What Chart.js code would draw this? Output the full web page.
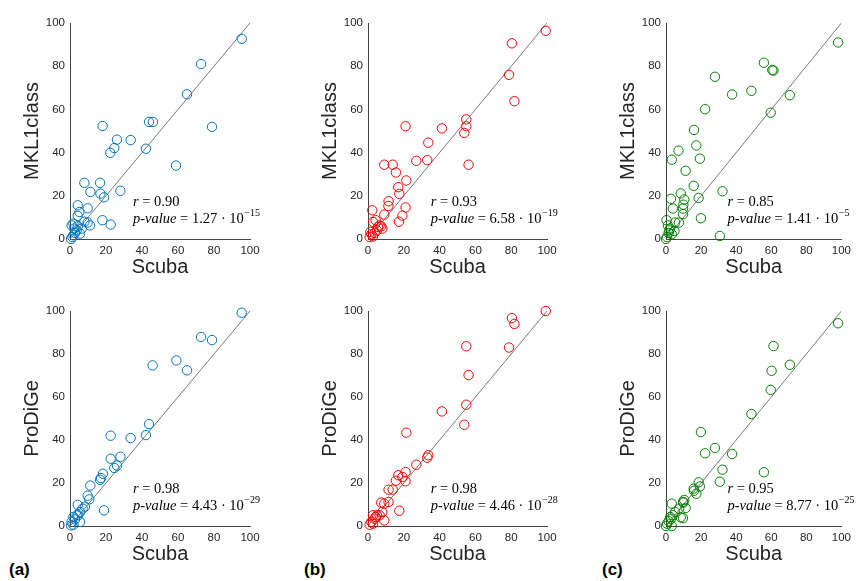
<!DOCTYPE html>
<html lang="en">
<head>
<meta charset="UTF-8">
<title>Scuba vs MKL1class / ProDiGe</title>
<script src="https://cdn.jsdelivr.net/npm/chart.js"></script>
<style>
  body { margin: 0; background: #fff; }
  #wrap { position: relative; width: 856px; height: 581px; overflow: hidden; }
  #wrap canvas { position: absolute; }
  .tag { position: absolute; font: bold 17px "Liberation Sans", Arial, sans-serif; color: #000; }
</style>
</head>
<body>
<div id="wrap">
  <div class="tag" style="left:9px; top:560px;">(a)</div>
  <div class="tag" style="left:304px; top:560px;">(b)</div>
  <div class="tag" style="left:602px; top:560px;">(c)</div>
</div>
<script>
// ---- data ----
const axisTicks = [0, 20, 40, 60, 80, 100];
const diagonal = [0, 100];

// column (a)
const scubaMklA = [95.4, 72.8, 65, 78.9, 58.9, 43.9, 46.1, 42.2, 33.7, 26.1, 24.6, 22.4, 18.1, 28, 16.7, 8, 11.3, 16.9, 18.9, 18, 22.6, 4.3, 5.2, 9.8, 4.3, 9.8, 11.1, 8, 1.9, 0.9, 2.4, 4.3, 5.6, 6.5, 2.8, 1.3, 0.6, 3.7, 1.9];
const mklA      = [92.7, 81, 67, 51.9, 34, 54.2, 54.2, 41.8, 45.8, 46, 42.1, 39.9, 52.3, 22.3, 26, 26, 21.8, 21, 19.3, 8.7, 6.7, 15.6, 12.5, 14.2, 10.7, 7.6, 6.3, 8, 7.1, 6.3, 4.8, 5.9, 2.5, 4.8, 2.8, 0.9, 0, 4, 1.7];
const scubaProA = [95.4, 72.8, 78.9, 59.1, 65, 45.9, 43.9, 42.2, 33.7, 22.6, 28, 22.6, 26.1, 24.6, 18.3, 17.2, 16.7, 11.3, 18.9, 9.8, 10.7, 4.3, 8.3, 7, 5.6, 3.7, 1.9, 5.6, 2.8, 0.9, 0.6, 1.9, 4.6];
const prodigeA  = [99.2, 87.9, 86.5, 77, 72.4, 74.7, 47.4, 42.3, 40.9, 42, 32.2, 31.3, 28.1, 27, 24.3, 22.3, 21.5, 18.8, 7.3, 14.1, 12.4, 9.8, 9, 8.1, 6.5, 5, 4.2, 1.9, 3.1, 1.9, 0.3, 0.6, 5];

// column (b)
const scubaMklB = [99.3, 80.4, 78.8, 81.8, 54.9, 54.9, 53.8, 56.2, 41.3, 33.7, 33.1, 27, 21, 21.4, 15.6, 13.8, 9.1, 16.9, 17.5, 11.5, 11.4, 21, 19.2, 17.3, 9.1, 2.4, 2.8, 4.3, 6.5, 8, 7.4, 5, 3.7, 1.9, 0.9, 2.8, 1.3, 5.6];
const mklB      = [96.4, 90.6, 76, 63.8, 55.4, 52.2, 49.1, 34.4, 51.2, 44.6, 36.5, 36.2, 52.2, 27.1, 30.8, 34.4, 34.4, 24, 20.9, 17.5, 15.3, 14.6, 10.8, 8, 11.3, 13.3, 7.9, 8.7, 6.3, 4.8, 5.9, 4, 2.8, 2.2, 0.9, 1.2, 3.3, 5.6];
const scubaProB = [99.3, 80.4, 81.8, 78.8, 54.9, 56.2, 54.9, 53.8, 41.3, 21.4, 33.7, 33.1, 27, 21, 21, 16.9, 19.2, 15.6, 13.8, 11.5, 17.5, 11.5, 9.1, 7.4, 9.1, 8, 6.5, 5, 2.8, 3.7, 1.9, 0.9, 2.8, 4.3];
const prodigeB  = [100, 96.7, 94, 83, 83.6, 70.2, 56.4, 47.1, 53.3, 43.4, 32.9, 31.8, 28.5, 25.1, 20.8, 23.6, 22.8, 21.1, 16.9, 16.9, 7.1, 11.2, 10.4, 10.9, 2.6, 6.5, 5, 5, 5, 3.4, 1.9, 0.6, 1.1, 4.2];

// column (c)
const scubaMklC = [98.1, 55.8, 60.6, 61.3, 70.6, 59.7, 48.7, 37.7, 27.9, 22.3, 16, 17.3, 19.3, 7.1, 3.3, 11.2, 15.8, 32.2, 18.6, 19.9, 30.7, 8.4, 10.4, 2.8, 3.9, 9.9, 9.7, 9.7, 7.4, 5.2, 0.3, 1.1, 2.4, 4.8, 1.5, 0.6, 0, 3.3, 1.9];
const mklC      = [91, 81.6, 78.2, 78, 66.6, 58.5, 68.6, 66.9, 75.1, 60.1, 50.5, 43.3, 37.2, 40.9, 36.7, 31.6, 24.6, 22.1, 19, 9.6, 1.4, 21.1, 18.3, 18.6, 14.1, 15.9, 14.1, 11.5, 7.6, 7.6, 8.7, 6.3, 4.8, 3.7, 2.8, 0.9, 0, 2.2, 4];
const scubaProC = [98.1, 61.3, 60.2, 59.7, 70.6, 48.7, 55.8, 37.7, 32.2, 30.7, 27.9, 22.3, 19.9, 18.6, 19.3, 15.8, 16, 17.3, 10.4, 9.7, 11.2, 9.9, 3.3, 7.4, 8.4, 9.7, 5.2, 3.9, 2.8, 1.5, 0.6, 0, 3.3, 2.4];
const prodigeC  = [94.3, 83.7, 72.2, 63.3, 75, 52.1, 25, 33.5, 26.2, 20.6, 36.3, 33.8, 43.7, 20.3, 18.4, 17.4, 16.4, 15, 12.1, 11.2, 8.4, 10.9, 10.4, 8.1, 4, 3.7, 6.5, 5, 3.4, 2.2, 1.1, 0, 0, 4.2];

// correlation stats shown in each panel
const rValues   = ['0.90', '0.93', '0.85', '0.98', '0.98', '0.95'];
const pMantissa = ['1.27', '6.58', '1.41', '4.43', '4.46', '8.77'];
const pExponent = ['\u221215', '\u221219', '\u22125', '\u221229', '\u221228', '\u221225'];

const panels = [
  { xs: scubaMklA, ys: mklA,     yTitle: 'MKL1class', color: '#0072BD', col: 0, row: 0 },
  { xs: scubaMklB, ys: mklB,     yTitle: 'MKL1class', color: '#FF0000', col: 1, row: 0 },
  { xs: scubaMklC, ys: mklC,     yTitle: 'MKL1class', color: '#008000', col: 2, row: 0 },
  { xs: scubaProA, ys: prodigeA, yTitle: 'ProDiGe',   color: '#0072BD', col: 0, row: 1 },
  { xs: scubaProB, ys: prodigeB, yTitle: 'ProDiGe',   color: '#FF0000', col: 1, row: 1 },
  { xs: scubaProC, ys: prodigeC, yTitle: 'ProDiGe',   color: '#008000', col: 2, row: 1 }
];

// canvas placement: left edge, width, right padding (plot right edge)
const cols = [
  { left: 0,   width: 298, padRight: 48 },
  { left: 298, width: 298, padRight: 49 },
  { left: 596, width: 260, padRight: 11 }
];
const rows = [
  { top: 0,   height: 290, padTop: 23, xAxisH: 51, titlePad: 11 },
  { top: 290, height: 291, padTop: 21, xAxisH: 55, titlePad: 15 }
];

// draws "r = .." and "p-value = m · 10^e" like the LaTeX labels
const statsText = {
  id: 'statsText',
  afterDatasetsDraw(chart, args, opts) {
    const { ctx, scales: { x, y } } = chart;
    const x0 = x.getPixelForValue(35);
    const y1 = y.getPixelForValue(17);
    const y2 = y.getPixelForValue(9.2);
    const serif = '"Liberation Serif", "DejaVu Serif", serif';
    ctx.save();
    ctx.fillStyle = '#000';
    ctx.textBaseline = 'middle';
    ctx.textAlign = 'left';
    let px = x0;
    ctx.font = 'italic 14.5px ' + serif;
    ctx.fillText('r', px, y1);
    px += ctx.measureText('r').width;
    ctx.font = '14.5px ' + serif;
    ctx.fillText(' = ' + opts.r, px, y1);

    px = x0;
    ctx.font = 'italic 14.5px ' + serif;
    ctx.fillText('p-value', px, y2);
    px += ctx.measureText('p-value').width;
    ctx.font = '14.5px ' + serif;
    const main = ' = ' + opts.m + ' \u00b7 10';
    ctx.fillText(main, px, y2);
    px += ctx.measureText(main).width + 0.5;
    ctx.font = '10px ' + serif;
    ctx.fillText(opts.e, px, y2 - 6);
    ctx.restore();
  }
};

const wrap = document.getElementById('wrap');

panels.forEach((p, i) => {
  const c = cols[p.col], r = rows[p.row];
  const canvas = document.createElement('canvas');
  canvas.width = c.width;
  canvas.height = r.height;
  canvas.style.left = c.left + 'px';
  canvas.style.top = r.top + 'px';
  canvas.style.width = c.width + 'px';
  canvas.style.height = r.height + 'px';
  wrap.appendChild(canvas);

  const points = p.xs.map((v, k) => ({ x: v, y: p.ys[k] }));
  const diag = diagonal.map(v => ({ x: v, y: v }));

  new Chart(canvas, {
    type: 'scatter',
    data: {
      datasets: [
        {
          data: points,
          pointStyle: 'circle',
          pointRadius: 4.7,
          pointBorderWidth: 1,
          pointBorderColor: p.color,
          pointBackgroundColor: 'rgba(0,0,0,0)',
          clip: false
        },
        {
          type: 'line',
          data: diag,
          borderColor: '#555',
          borderWidth: 0.8,
          pointRadius: 0,
          fill: false
        }
      ]
    },
    options: {
      responsive: false,
      animation: false,
      layout: { padding: { left: 0, right: c.padRight, top: r.padTop, bottom: 0 } },
      plugins: {
        legend: { display: false },
        tooltip: { enabled: false },
        statsText: { r: rValues[i], m: pMantissa[i], e: pExponent[i] }
      },
      scales: {
        x: {
          type: 'linear',
          min: 0, max: 100,
          afterBuildTicks: s => { s.ticks = axisTicks.map(v => ({ value: v })); },
          afterFit: s => { s.height = r.xAxisH; },
          grid: { display: false, drawTicks: false },
          border: { display: true, color: '#444', width: 1 },
          ticks: { padding: 5, color: '#262626', font: { family: '"Liberation Sans", Arial, sans-serif', size: 11.5 } },
          title: {
            display: true, text: 'Scuba', color: '#262626',
            font: { family: '"Liberation Sans", Arial, sans-serif', size: 20 },
            padding: { top: 0, bottom: r.titlePad }
          }
        },
        y: {
          type: 'linear',
          min: 0, max: 100,
          afterBuildTicks: s => { s.ticks = axisTicks.map(v => ({ value: v })); },
          afterFit: s => { s.width = 70; },
          grid: { display: false, drawTicks: false },
          border: { display: true, color: '#444', width: 1 },
          ticks: { padding: 5, color: '#262626', font: { family: '"Liberation Sans", Arial, sans-serif', size: 11.5 } },
          title: {
            display: true, text: p.yTitle, color: '#262626',
            font: { family: '"Liberation Sans", Arial, sans-serif', size: 20 },
            padding: { top: 20, bottom: 0 }
          }
        }
      }
    },
    plugins: [statsText]
  });
});
</script>
</body>
</html>
